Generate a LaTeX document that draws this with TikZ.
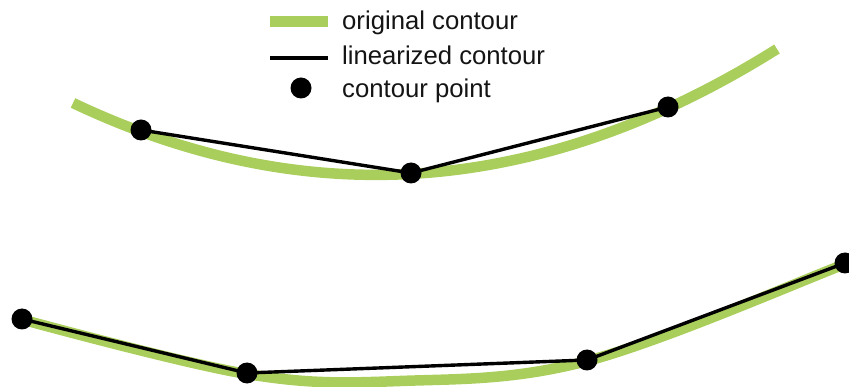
\documentclass[tikz,border=0pt]{standalone}
\usepackage{fontspec}
\setmainfont{Liberation Sans}
\definecolor{contgreen}{RGB}{170,206,92}
\definecolor{txtcol}{RGB}{20,20,20}
\begin{document}
\begin{tikzpicture}[x=1pt,y=-1pt,
  origline/.style={draw=contgreen,line width=10.5pt,line cap=butt},
  linline/.style={draw=black,line width=3.4pt},
  cpoint/.style={circle,fill=black,inner sep=0pt,minimum size=21pt},
  legtext/.style={anchor=base west,inner sep=0pt,text=txtcol,font=\fontsize{25.7}{30}\selectfont}]
\useasboundingbox (0,0) rectangle (849,387);
\clip (0,0) rectangle (849,387);
% original contours
\draw[origline] (73,103) .. controls (307.67,214.33) and (542.33,196.33) .. (777,49);
\draw[origline] plot[smooth,tension=0.6] coordinates {(24,320) (247,374) (400,381) (587,361) (845,264) (880,248)};
% contour points
\node[cpoint] (a1) at (141,130) {};
\node[cpoint] (a2) at (411,173) {};
\node[cpoint] (a3) at (668,107) {};
\node[cpoint] (b1) at (22,319) {};
\node[cpoint] (b2) at (247,373) {};
\node[cpoint] (b3) at (587,360) {};
\node[cpoint] (b4) at (845,263) {};
% linearized contours
\draw[linline] (a1.center) -- (a2.center) -- (a3.center);
\draw[linline] (b1.center) -- (b2.center) -- (b3.center) -- (b4.center);
% legend
\coordinate (g1) at (270,21.5);
\coordinate (g2) at (328,21.5);
\coordinate (k1) at (270,58);
\coordinate (k2) at (328,58);
\draw[origline] (g1) -- (g2);
\draw[linline] (k1) -- (k2);
\node[cpoint] (lp) at (301,88) {};
\node[legtext] (t1) at (342,30) {original contour};
\node[legtext] (t2) at (342,64.5) {linearized contour};
\node[legtext] (t3) at (342,97.5) {contour point};
\end{tikzpicture}
\end{document}
